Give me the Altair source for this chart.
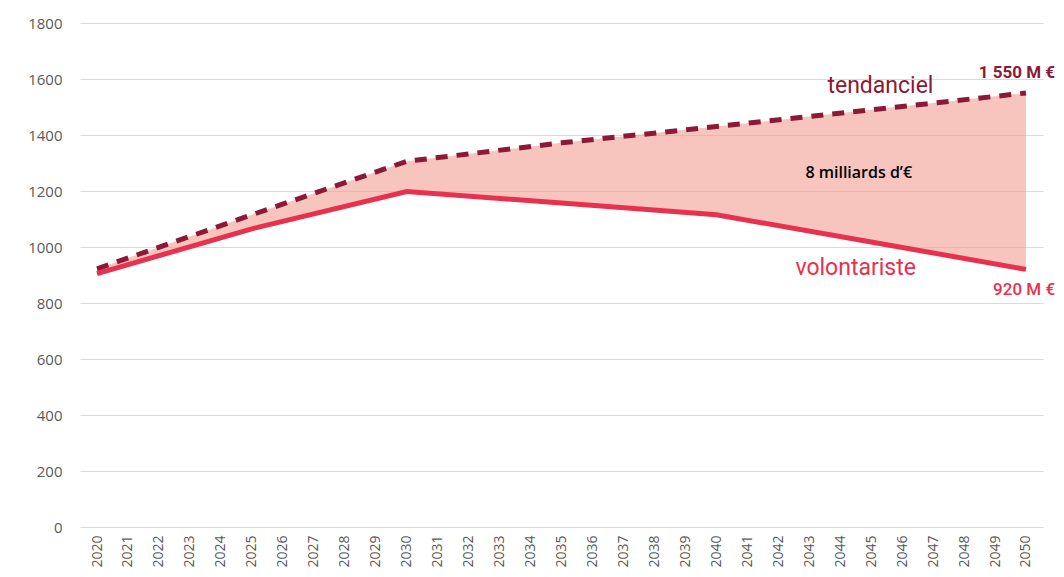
import altair as alt
import pandas as pd

years = [2020, 2025, 2030, 2035, 2040, 2045, 2050]
tendanciel = [922, 1115, 1306, 1372, 1430, 1490, 1550]
volontariste = [905, 1065, 1198, 1157, 1115, 1018, 920]
all_years = list(range(2020, 2051))

df = pd.DataFrame({"year": years, "tendanciel": tendanciel, "volontariste": volontariste})

xscale = alt.Scale(domain=[2019.45, 2050.55], nice=False, zero=False)
xaxis = alt.Axis(values=all_years, tickCount=31, format="d", labelAngle=-90, title=None,
                 grid=False, ticks=False, domain=False, labelPadding=8,
                 labelFont="Open Sans", labelFontSize=14, labelColor="#595959",
                 labelAlign="right", labelBaseline="middle", labelOverlap=False,
                 labelSeparation=0)
x = alt.X("year:Q", scale=xscale, axis=xaxis)
yscale = alt.Scale(domain=[0, 1800], nice=False)
yaxis = alt.Axis(values=list(range(0, 1801, 200)), format="d", title=None, grid=True,
                 gridColor="#d9d9d9", ticks=False, domain=False, labelPadding=18,
                 labelFont="Open Sans", labelFontSize=15, labelColor="#595959")

base = alt.Chart(df)

area = base.mark_area(color="#F39D92", opacity=0.6).encode(
    x=x, y=alt.Y("tendanciel:Q", scale=yscale, axis=yaxis), y2="volontariste:Q")

line_t = base.mark_line(color="#8C1A36", strokeWidth=5, strokeDash=[12, 9]).encode(
    x=x, y=alt.Y("tendanciel:Q", scale=yscale, axis=yaxis))
line_v = base.mark_line(color="#E8314F", strokeWidth=5).encode(
    x=x, y=alt.Y("volontariste:Q", scale=yscale, axis=yaxis))

def label(text, xv, yv, color, size, weight="normal", align="center", font="Roboto"):
    return alt.Chart().mark_text(text=text, color=color, fontSize=size, fontWeight=weight,
                                 font=font, align=align, baseline="middle").encode(
        x=alt.XDatum(xv, type="quantitative", scale=xscale, axis=xaxis),
        y=alt.YDatum(yv, type="quantitative", scale=yscale, axis=yaxis))

labels = [
    label("tendanciel", 2045.3, 1574, "#8C1A36", 23),
    label("1 550 M €", 2050.94, 1620, "#8C1A36", 17, "bold", "right"),
    label("8 milliards d’€", 2044.6, 1264, "#000000", 16, 600, "center", "Open Sans"),
    label("volontariste", 2044.5, 925, "#E8314F", 23),
    label("920 M €", 2050.94, 845, "#E8314F", 17, 500, "right"),
]

chart = alt.layer(area, line_t, line_v, *labels).properties(
    width=963, height=504,
    autosize=alt.AutoSizeParams(type="none"),
    padding={"left": 72, "top": 15, "right": 13, "bottom": 42},
).configure_view(stroke=None).configure_axisX(labelOverlap=False, labelSeparation=0)

chart.save("out.html", embed_options={"renderer": "svg", "actions": False})
